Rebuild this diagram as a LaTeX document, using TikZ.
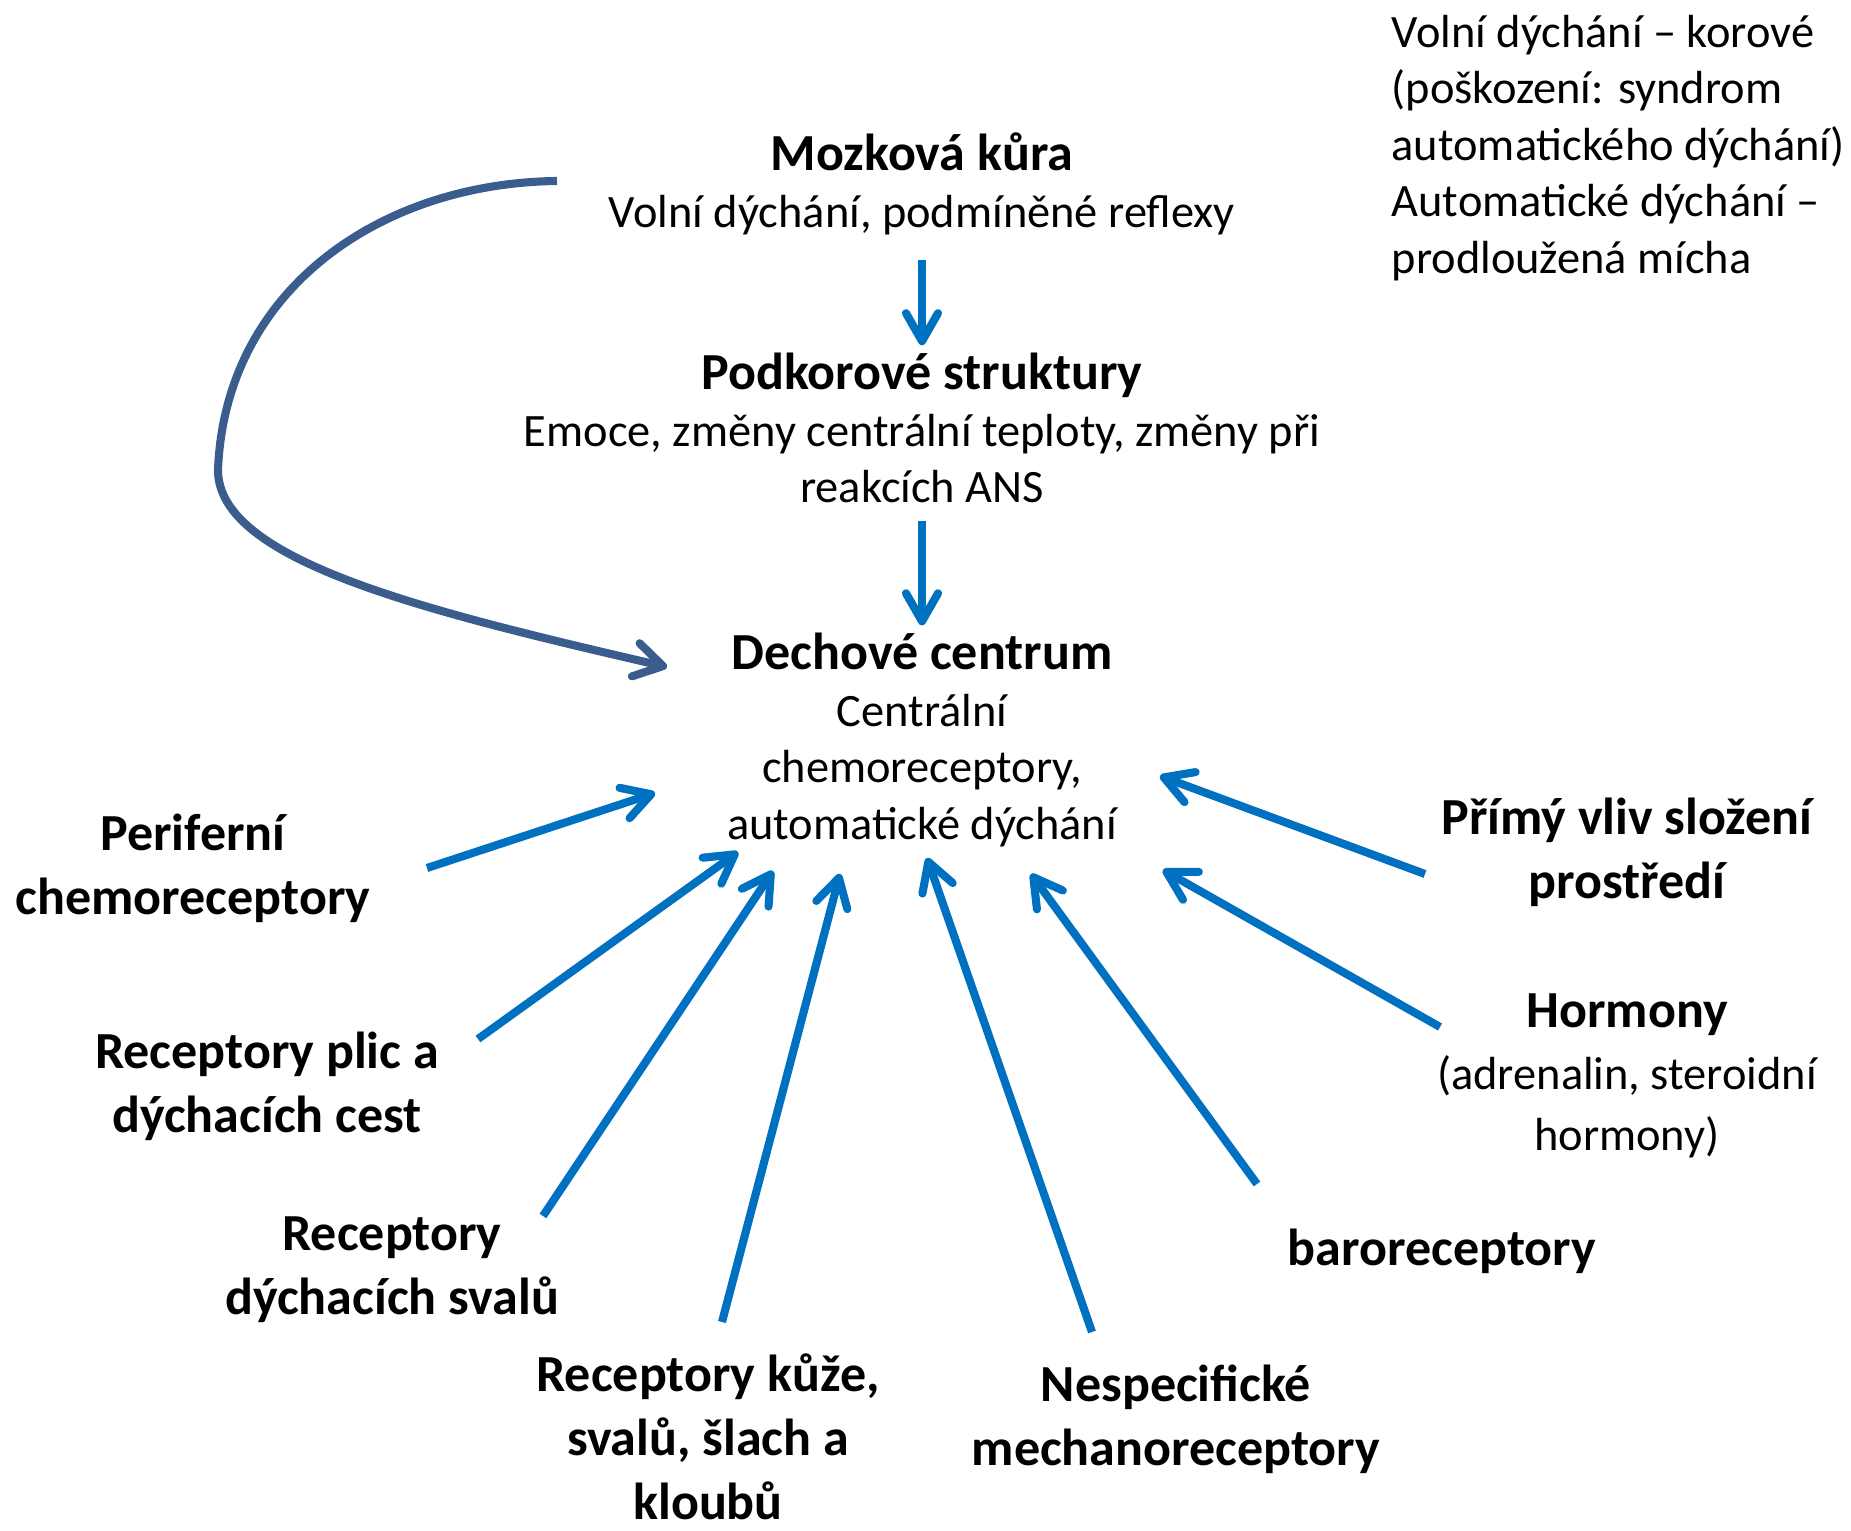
\documentclass[tikz,border=0pt]{standalone}
\usepackage{fontspec}
\setmainfont{Carlito}
\usetikzlibrary{arrows.meta}
\definecolor{arrblue}{HTML}{0070C0}
\definecolor{curveblue}{HTML}{3A5D8E}
\newcommand{\hdsize}{\fontsize{14.8}{18.2}\selectfont\bfseries}

\begin{document}
\begin{tikzpicture}[x=0.01cm, y=-0.01cm,
    txt/.style={font=\fontsize{13.2}{16.1}\selectfont, align=center, inner sep=0pt},
    lbl/.style={font=\hdsize, align=center, inner sep=0pt},
    inarrow/.style={draw=arrblue, line width=2.3pt,
        -{Straight Barb[length=0.28cm, width=0.32cm, round]}},
    loopbarrow/.style={draw=curveblue, line width=2.3pt,
        -{Straight Barb[length=0.28cm, width=0.34cm, round]}}]
  \useasboundingbox (0,0) rectangle (1851,1531);

  % central column
  \node[txt] (mozek) at (922,184) {{\hdsize Mozková kůra}\\Volní dýchání, podmíněné reflexy};
  \node[txt] (podkor) at (922,428) {{\hdsize Podkorové struktury}\\Emoce, změny centrální teploty, změny při\\reakcích ANS};
  \node[txt] (dech) at (922,740) {{\hdsize Dechové centrum}\\Centrální\\chemoreceptory,\\automatické dýchání};

  % note
  \node[txt, align=left, anchor=west] (pozn) at (1391,148) {Volní dýchání -- korové\\(poškození: syndrom\\automatického dýchání)\\Automatické dýchání --\\prodloužená mícha};

  % inputs
  \node[lbl] (perif) at (193,868) {Periferní\\chemoreceptory};
  \node[lbl] (plice) at (267,1086) {Receptory plic a\\dýchacích cest};
  \node[lbl] (svaly) at (392,1270) {Receptory\\dýchacích svalů};
  \node[lbl] (kuze) at (708,1437) {Receptory kůže,\\svalů, šlach a\\kloubů};
  \node[lbl] (mechano) at (1176,1419) {Nespecifické\\mechanoreceptory};
  \node[lbl] (baro) at (1442,1251) {baroreceptory};
  \node[txt, font=\fontsize{13.2}{17.4}\selectfont] (hormon) at (1627,1076) {{\hdsize Hormony}\\(adrenalin, steroidní\\hormony)};
  \node[lbl] (prostr) at (1627,852) {Přímý vliv složení\\prostředí};

  % arrow ends
  \coordinate (t1) at (427,868);   \coordinate (h1) at (655,793);
  \coordinate (t2) at (478,1039);  \coordinate (h2) at (738,852);
  \coordinate (t3) at (543,1216);  \coordinate (h3) at (773,871);
  \coordinate (t4) at (722,1322);  \coordinate (h4) at (840,874);
  \coordinate (t5) at (1092,1332); \coordinate (h5) at (927,858);
  \coordinate (t6) at (1257,1184); \coordinate (h6) at (1031,874);
  \coordinate (t7) at (1440,1027); \coordinate (h7) at (1163,870);
  \coordinate (t8) at (1425,874);  \coordinate (h8) at (1160,776);
  \coordinate (volni) at (557,181);
  \coordinate (vlevo) at (218,470);
  \coordinate (h0) at (667,667);

  \draw[inarrow, shorten <=7pt, shorten >=2pt] (mozek.south) -- (podkor.north);
  \draw[inarrow, shorten <=5pt, shorten >=2pt] (podkor.south) -- (dech.north);

  \draw[loopbarrow] (volni) .. controls (380,183) and (225,290) .. (vlevo)
    .. controls (218,560) and (420,610) .. (h0);

  \draw[inarrow] (t1) -- (h1);
  \draw[inarrow] (t2) -- (h2);
  \draw[inarrow] (t3) -- (h3);
  \draw[inarrow] (t4) -- (h4);
  \draw[inarrow] (t5) -- (h5);
  \draw[inarrow] (t6) -- (h6);
  \draw[inarrow] (t7) -- (h7);
  \draw[inarrow] (t8) -- (h8);
\end{tikzpicture}
\end{document}
